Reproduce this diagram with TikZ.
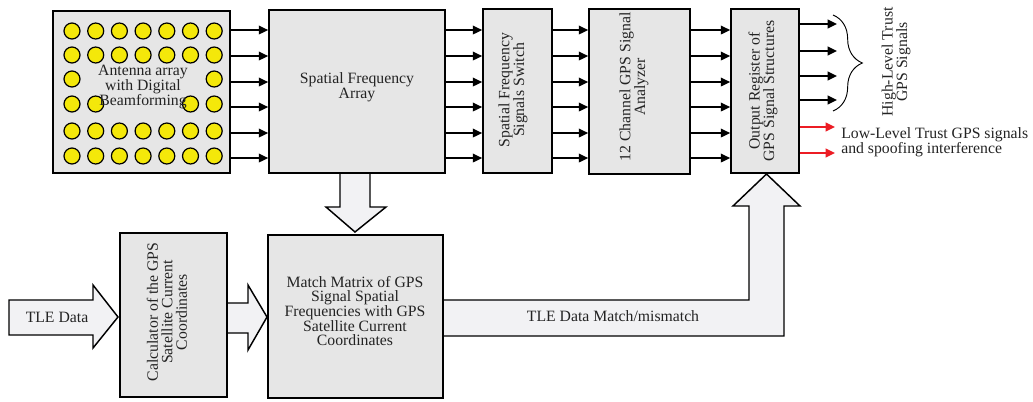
\documentclass[tikz,border=0pt]{standalone}
\usepackage{fontspec}
\setmainfont{Liberation Serif}
\usetikzlibrary{arrows.meta,decorations.pathreplacing}
\definecolor{boxgray}{RGB}{230,230,230}
\definecolor{arrgray}{RGB}{242,242,244}
\definecolor{dotyellow}{RGB}{244,232,10}
\definecolor{tred}{RGB}{236,28,36}
\definecolor{txt}{RGB}{35,35,35}
\begin{document}
\begin{tikzpicture}[x=0.75pt,y=-0.75pt,
  blk/.style={draw=black,line width=1.3pt,fill=boxgray,inner sep=0pt},
  bigarrow/.style={draw=black,line width=1.1pt,fill=arrgray,line join=miter},
  lbl/.style={font=\fontsize{11.8}{10.9}\selectfont,align=center,text=txt,inner sep=0pt},
  sig/.style={line width=1.3pt,-{Triangle[length=7pt,width=6.5pt]}},
  redsig/.style={sig,draw=tred,-{Triangle[length=7pt,width=6.5pt,fill=tred]}},
  dot/.style={circle,draw=black,line width=0.9pt,fill=dotyellow,minimum size=12pt,inner sep=0pt}
]
\useasboundingbox (0,0) rectangle (1033,401);

% block arrows (drawn beneath the boxes)
\node[blk,minimum width=132pt,minimum height=122.25pt] (sfa) at (357,91.5) {};
\node[blk,minimum width=131.25pt,minimum height=122.25pt] (match) at (355.5,316.5) {};
\node[blk,minimum width=80.25pt,minimum height=123pt] (calc) at (173.5,315) {};
\node[blk,minimum width=51pt,minimum height=123pt] (out) at (765,91) {};

\draw[bigarrow] (340,173) -- (340,207) -- (326,207) -- (355,232) -- (386,207) -- (370,207) -- (370,173);
\draw[bigarrow] (9,300) -- (93,300) -- (93,285) -- (118,317) -- (93,348) -- (93,335) -- (9,335) -- cycle;
\draw[bigarrow] (227,303) -- (248,303) -- (248,285) -- (267,317) -- (248,350) -- (248,333) -- (227,333);
\draw[bigarrow] (443,300) -- (749,300) -- (749,206) -- (733,206) -- (766.5,174) -- (800,206) -- (784,206) -- (784,336) -- (443,336);

% boxes
\node[blk,minimum width=132.75pt,minimum height=121.5pt] (ant) at (141.5,92) {};
\node[blk,minimum width=132pt,minimum height=122.25pt] at (sfa) {};
\node[blk,minimum width=51.75pt,minimum height=123pt] (sw) at (517.5,91) {};
\node[blk,minimum width=75.75pt,minimum height=123.75pt] (ana) at (639.5,91.5) {};
\node[blk,minimum width=51pt,minimum height=123pt] at (out) {};
\node[blk,minimum width=80.25pt,minimum height=123pt] at (calc) {};
\node[blk,minimum width=131.25pt,minimum height=122.25pt] at (match) {};

% antenna elements
\foreach \r/\y/\cols in {1/31/{1,2,3,4,5,6,7},2/55/{1,2,3,4,5,6,7},3/79/{1,7},4/104/{1,2,6,7},5/131/{1,2,3,4,5,6,7},6/156/{1,2,3,4,5,6,7}}{
  \foreach \c in \cols {
    \pgfmathsetmacro{\xx}{72+23.7*(\c-1)}
    \node[dot] (d\r\c) at (\xx,\y) {};
  }
}

% labels
\node[lbl] (antl) at (143,87) {Antenna array\\with Digital\\Beamforming};
\node[lbl] (sfal) at (357,87) {Spatial Frequency\\Array};
\node[lbl,rotate=90] (swl) at (513,90) {Spatial Frequency\\Signals Switch};
\node[lbl,rotate=90] (anal) at (634,87) {12 Channel GPS Signal\\Analyzer};
\node[lbl,rotate=90] (outl) at (763,91) {Output Register of\\GPS Signal Structures};
\node[lbl,rotate=90] (calcl) at (167,312) {Calculator of the GPS\\Satellite Current\\Coordinates};
\node[lbl] (matchl) at (355,311) {Match Matrix of GPS\\Signal Spatial\\Frequencies with GPS\\Satellite Current\\Coordinates};
\node[lbl] (tle) at (57,317) {TLE Data};
\node[lbl] (mm) at (613,316) {TLE Data Match/mismatch};
\node[lbl,rotate=90] (hl) at (896,62) {High-Level Trust\\GPS Signals};
\node[lbl,align=left,anchor=west] (ll) at (841,142) {Low-Level Trust GPS signals\\and spoofing interference};

% signal arrows
\foreach \y in {30,56,82,107,133,158}{
  \draw[sig] (ant.east |- 0,\y) -- (sfa.west |- 0,\y);
  \draw[sig] (sfa.east |- 0,\y) -- (sw.west |- 0,\y);
  \draw[sig] (sw.east |- 0,\y) -- (ana.west |- 0,\y);
  \draw[sig] (ana.east |- 0,\y) -- (out.west |- 0,\y);
}
\coordinate (o1) at (837,24);
\coordinate (o2) at (837,51);
\coordinate (o3) at (837,76);
\coordinate (o4) at (837,100);
\foreach \k in {1,2,3,4}{
  \draw[sig] (out.east |- o\k) -- (o\k);
}
\coordinate (r1) at (835,127);
\coordinate (r2) at (835,153);
\draw[redsig] (out.east |- r1) -- (r1);
\draw[redsig] (out.east |- r2) -- (r2);

% brace
\draw[line width=0.7pt,decorate,decoration={brace,amplitude=22pt,aspect=0.5}] (833,15) -- (833,111);
\end{tikzpicture}
\end{document}
